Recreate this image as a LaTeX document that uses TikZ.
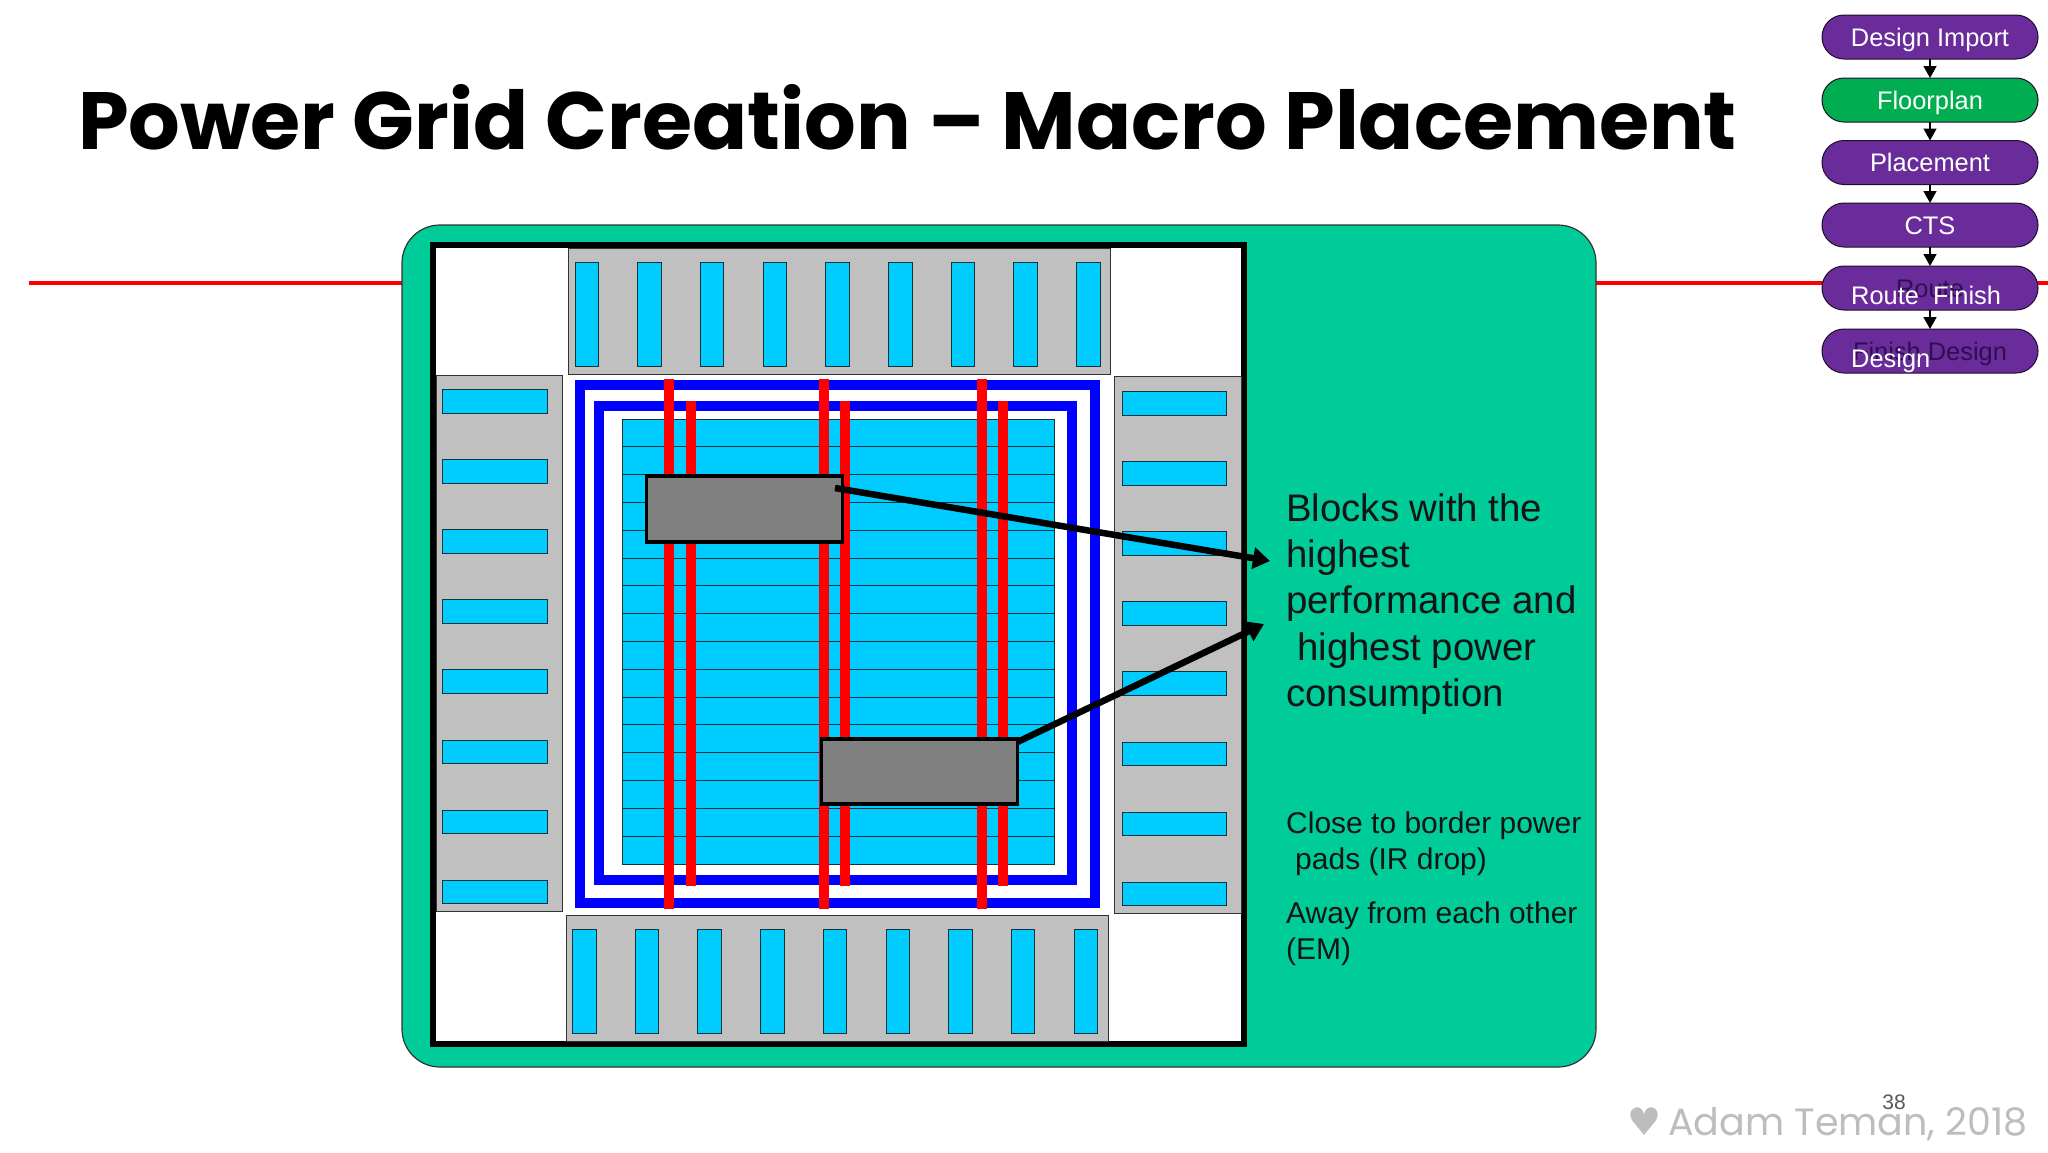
\documentclass[tikz,border=0pt]{standalone}
\usepackage{fontspec}
\setmainfont{Liberation Sans}
\newfontfamily\titlefont{Poppins}
\newfontfamily\symfont{DejaVu Sans}
\usetikzlibrary{arrows.meta}
\definecolor{panelgreen}{HTML}{00CC99}
\definecolor{cyanfill}{HTML}{00CCFF}
\definecolor{padgrey}{HTML}{C0C0C0}
\definecolor{macrogrey}{HTML}{808080}
\definecolor{pillpurple}{HTML}{6A2C9A}
\definecolor{pillgreen}{HTML}{00AD50}
\definecolor{darkline}{HTML}{10343C}
\definecolor{ghost}{HTML}{2E0F50}
\definecolor{footgrey}{HTML}{BDBDBD}
\tikzset{
  pad/.style={fill=padgrey,draw=black!80,line width=1pt},
  pin/.style={fill=cyanfill,draw=darkline,line width=1pt},
  ring/.style={draw=blue,line width=10pt},
  rail/.style={draw=red,line width=10pt},
  rowline/.style={draw=darkline,line width=1pt},
  pill/.style={rounded corners=22pt,draw=black!70!pillpurple,line width=1pt,minimum width=216pt,minimum height=44pt,
     inner sep=0pt,outer sep=0pt,text=white,font=\fontsize{25.4pt}{28pt}\selectfont,text height=18pt,text depth=0pt},
  flow/.style={draw=black,line width=1.5pt,-{Triangle[length=12pt,width=13pt]}},
  macro/.style={fill=macrogrey,draw=black,line width=3.5pt,inner sep=0pt,outer sep=0pt},
  callout/.style={draw=black,line width=6.5pt,-{Triangle[length=17pt,width=21pt]}},
  big/.style={anchor=base west,inner sep=0pt,font=\fontsize{38.4pt}{44pt}\selectfont,text=black!92},
  small/.style={anchor=base west,inner sep=0pt,font=\fontsize{30pt}{36pt}\selectfont,text=black!92},
  pilltext/.style={anchor=base west,inner sep=0pt,text=white,font=\fontsize{25.4pt}{28pt}\selectfont}
}
\begin{document}
\begin{tikzpicture}[x=1pt,y=-1pt]
\useasboundingbox[fill=white] (0,0) rectangle (2048,1152);
% red horizon line
\coordinate (redL) at (29,283);
\coordinate (redR) at (2048,283);
\draw[red,line width=3.2pt] (redL) -- (redR);
% panel
\draw[fill=panelgreen,draw=black!80,line width=1.2pt,rounded corners=38pt] (402,225) rectangle (1596,1067);
% chip frame
\draw[fill=white,draw=black,line width=6pt] (433,245) rectangle (1244,1044);
% pads
\draw[pad] (568,248) rectangle (1110,374);
\foreach \i in {0,...,8} \draw[pin] ({575+62.7*\i},262.5) rectangle ({598.5+62.7*\i},366);
\draw[pad] (566,915) rectangle (1108,1041);
\foreach \i in {0,...,8} \draw[pin] ({572.5+62.7*\i},929) rectangle ({596+62.7*\i},1033);
\draw[pad] (436,375) rectangle (562,911);
\foreach \i in {0,...,7} \draw[pin] (442.5,{389.5+70.1*\i}) rectangle (547,{413+70.1*\i});
\draw[pad] (1114,376) rectangle (1241,913);
\foreach \i in {0,...,7} \draw[pin] (1122,{391.5+70.1*\i}) rectangle (1226,{415+70.1*\i});
% power rings
\draw[ring] (580,385) rectangle (1095,903);
\draw[ring] (599,405.5) rectangle (1072,880);
% core rows
\draw[pin] (622.5,419) rectangle (1054,864.5);
\foreach \i in {1,...,15} \draw[rowline] (622.5,{419+27.8*\i}) -- (1054,{419+27.8*\i});
% stripes
\foreach \x in {669,824,982} \draw[rail] (\x,379) -- (\x,909);
\foreach \x in {691,845,1003} \draw[rail] (\x,401) -- (\x,886);
% macros
\node[macro,minimum width=196pt,minimum height=66pt] (m1) at (744.5,509) {};
\node[macro,minimum width=196pt,minimum height=65pt] (m2) at (919.5,771.5) {};
% callouts
\coordinate (a1s) at (835,488);
\coordinate (a1e) at (1270,561);
\coordinate (a2e) at (1264,624);
\draw[callout] (a1s) -- (a1e);
\draw[callout] (m2.north east) ++(0,3) -- (a2e);
% text
\node[big] (t1) at (1286,521) {Blocks with the};
\node[big] (t2) at (1286,567) {highest};
\node[big] (t3) at (1286,613) {performance and};
\node[big] (t4) at (1297,660) {highest power};
\node[big] (t5) at (1286,706) {consumption};
\node[small] (s1) at (1286,833) {Close to border power};
\node[small] (s2) at (1295,869) {pads (IR drop)};
\node[small] (s3) at (1286,923) {Away from each other};
\node[small] (s4) at (1286,959) {(EM)};
% title
\node[anchor=base west,inner sep=0pt,font=\titlefont\bfseries\fontsize{81.2pt}{90pt}\selectfont] (title) at (78,149) {Power Grid Creation – Macro Placement};
% flow
\node[pill,fill=pillpurple] (p1) at (1930,37) {Design Import};
\node[pill,fill=pillgreen]  (p2) at (1930,100) {Floorplan};
\node[pill,fill=pillpurple] (p3) at (1930,162.5) {Placement};
\node[pill,fill=pillpurple] (p4) at (1930,225) {CTS};
\node[pill,fill=pillpurple,text=ghost] (p5) at (1930,288) {Route};
\node[pill,fill=pillpurple,text=ghost] (p6) at (1930,351) {Finish Design};
\draw[flow] (p1) -- (p2);
\draw[flow] (p2) -- (p3);
\draw[flow] (p3) -- (p4);
\draw[flow] (p4) -- (p5);
\draw[flow] (p5) -- (p6);
\node[pilltext] (w1) at (1851,304) {Route};
\node[pilltext] (w2) at (1933,304) {Finish};
\node[pilltext] (w3) at (1851,367) {Design};
% footer
\node[anchor=base west,inner sep=0pt,text=footgrey,font=\symfont\fontsize{38pt}{40pt}\selectfont] (heart) at (1627,1135) {♥};
\node[anchor=base west,inner sep=0pt,text=footgrey,font=\titlefont\fontsize{38pt}{42pt}\selectfont] (foot) at (1668,1135) {Adam Teman, 2018};
\node[anchor=base,inner sep=0pt,text=black!65,font=\fontsize{21pt}{24pt}\selectfont] (num) at (1894,1109) {38};
\end{tikzpicture}
\end{document}
